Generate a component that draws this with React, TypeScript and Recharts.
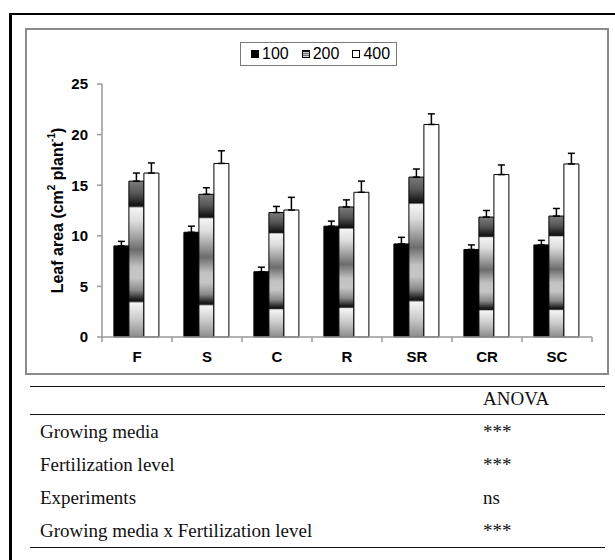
import React from 'react';
import { BarChart, Bar, XAxis, YAxis, ErrorBar } from 'recharts';

// growing media
const categories = ['F', 'S', 'C', 'R', 'SR', 'CR', 'SC'];
// fertilization levels
const levels = ['100', '200', '400'];

const leafArea100 = [9.0, 10.35, 6.45, 10.95, 9.2, 8.65, 9.1];
const leafArea200 = [15.4, 14.1, 12.3, 12.85, 15.8, 11.85, 11.95];
const leafArea400 = [16.2, 17.15, 12.55, 14.3, 21.0, 16.05, 17.1];

const se100 = [0.45, 0.6, 0.45, 0.5, 0.65, 0.45, 0.45];
const se200 = [0.8, 0.65, 0.6, 0.7, 0.8, 0.65, 0.75];
const se400 = [1.0, 1.25, 1.25, 1.1, 1.05, 0.95, 1.05];

const yTicks = [0, 5, 10, 15, 20, 25];

const anovaFactors = [
    'Growing media',
    'Fertilization level',
    'Experiments',
    'Growing media x Fertilization level',
];
const anovaSignif = ['***', '***', 'ns', '***'];

const values = [leafArea100, leafArea200, leafArea400];
const errors = [se100, se200, se400];
const fills = ['#000000', 'url(#grad200)', '#ffffff'];

const data = categories.map((name, i) => {
    const row: Record<string, any> = { name };
    levels.forEach((lv, s) => {
        row[`v${lv}`] = values[s][i];
        row[`e${lv}`] = [0, errors[s][i]];
    });
    return row;
});

const SANS = '"Liberation Sans", Arial, sans-serif';
const SERIF = '"Liberation Serif", "Times New Roman", serif';

const GradStops = () => (
    <>
        <stop offset="0" stopColor="#7c7c7c" />
        <stop offset="0.08" stopColor="#555555" />
        <stop offset="0.145" stopColor="#1c1c1c" />
        <stop offset="0.16" stopColor="#111111" />
        <stop offset="0.172" stopColor="#f4f4f4" />
        <stop offset="0.26" stopColor="#dcdcdc" />
        <stop offset="0.35" stopColor="#a6a6a6" />
        <stop offset="0.44" stopColor="#6c6c6c" />
        <stop offset="0.55" stopColor="#c2c2c2" />
        <stop offset="0.62" stopColor="#c6c6c6" />
        <stop offset="0.7" stopColor="#8a8a8a" />
        <stop offset="0.755" stopColor="#222222" />
        <stop offset="0.77" stopColor="#111111" />
        <stop offset="0.782" stopColor="#f5f5f5" />
        <stop offset="0.88" stopColor="#cdcdcd" />
        <stop offset="1" stopColor="#8c8c8c" />
    </>
);

const XTick = (props: any) => {
    const { x, y, payload, index } = props;
    const half = payload && payload.offset ? payload.offset : 35;
    const last = index === categories.length - 1;
    return (
        <g>
            <line x1={x - half} x2={x - half} y1={y} y2={y + 5} stroke="#999" strokeWidth={1.5} />
            {last && <line x1={x + half} x2={x + half} y1={y} y2={y + 5} stroke="#999" strokeWidth={1.5} />}
            <text x={x} y={y + 19} textAnchor="middle" dominantBaseline="central"
                fontFamily={SANS} fontSize={15} fontWeight="bold" fill="#000">
                {payload.value}
            </text>
        </g>
    );
};

const YLabel = (props: any) => {
    const vb = props.viewBox || { x: 52, y: 84, height: 253 };
    const cx = vb.x + 5;
    const cy = vb.y + vb.height / 2;
    return (
        <text x={cx} y={cy} transform={`rotate(-90, ${cx}, ${cy})`} textAnchor="middle"
            dominantBaseline="central" fontFamily={SANS} fontSize={16} fontWeight="bold" fill="#000">
            {'Leaf area (cm'}<tspan fontSize={10} baselineShift="super">2</tspan>{' plant'}<tspan fontSize={10} baselineShift="super">-1</tspan>{')'}
        </text>
    );
};

const LegendBox = () => (
    <div style={{
        position: 'absolute', left: 240, top: 42, width: 157, height: 24, boxSizing: 'border-box',
        border: '1px solid #7a7a7a', background: '#fff', display: 'flex', alignItems: 'center',
        paddingLeft: 10, fontFamily: SANS, fontSize: 16, color: '#000',
    }}>
        {levels.map((lv, s) => (
            <div key={lv} style={{ display: 'flex', alignItems: 'center', marginRight: 13 }}>
                <svg width={8} height={8} style={{ marginRight: 3 }}>
                    <defs>
                        <linearGradient id={`lg${lv}`} x1="0" y1="0" x2="0" y2="1">
                            <GradStops />
                        </linearGradient>
                    </defs>
                    <rect x={0.5} y={0.5} width={7} height={7}
                        fill={s === 1 ? `url(#lg${lv})` : fills[s]} stroke="#000" strokeWidth={1} />
                </svg>
                <span style={{ lineHeight: '16px' }}>{lv}</span>
            </div>
        ))}
    </div>
);

const AnovaTable = () => (
    <div style={{ position: 'absolute', left: 30, top: 386, width: 575, fontFamily: SERIF, fontSize: 19, color: '#111' }}>
        <div style={{ borderTop: '1.5px solid #111', borderBottom: '1.5px solid #111', height: 27, lineHeight: '24px', position: 'relative' }}>
            <span style={{ position: 'absolute', left: 453 }}>ANOVA</span>
        </div>
        {anovaFactors.map((f, i) => (
            <div key={f} style={{ height: 33, lineHeight: '33px', position: 'relative' }}>
                <span style={{ position: 'absolute', left: 10 }}>{f}</span>
                <span style={{ position: 'absolute', left: 453 }}>{anovaSignif[i]}</span>
            </div>
        ))}
        <div style={{ borderTop: '1.5px solid #111' }} />
    </div>
);

export default function App() {
    return (
        <div style={{ position: 'fixed', left: 0, top: 0, width: 615, height: 560, overflow: 'hidden', background: '#fff' }}>
            <div style={{ position: 'absolute', left: 9, top: 13, width: 800, height: 800, borderLeft: '3px solid #000', borderTop: '2.5px solid #000' }} />
            <div style={{ position: 'absolute', left: 25, top: 28, width: 584, height: 347, boxSizing: 'border-box', border: '2px solid #8a8a8a' }} />
            <div style={{ position: 'absolute', left: 0, top: 0 }}>
                <BarChart width={615} height={380} data={data}
                    margin={{ top: 84, right: 23, bottom: 13, left: 52 }}
                    barCategoryGap="17%" barGap={0}>
                    <defs>
                        <linearGradient id="grad200" x1="0" y1="0" x2="0" y2="1">
                            <GradStops />
                        </linearGradient>
                    </defs>
                    <XAxis dataKey="name" height={30} stroke="#999" axisLine={{ stroke: '#999', strokeWidth: 1.5 }}
                        tickLine={false} tickSize={0} tickMargin={0} tick={<XTick />} interval={0} />
                    <YAxis domain={[0, 25]} ticks={yTicks} width={50} interval={0}
                        axisLine={{ stroke: '#999', strokeWidth: 1.5 }} tickLine={{ stroke: '#999', strokeWidth: 1.5 }}
                        tickSize={5} tickMargin={9}
                        tick={{ fill: '#000', fontSize: 15, fontWeight: 'bold', fontFamily: SANS }}
                        label={{ content: <YLabel /> }} />
                    {levels.map((lv, s) => (
                        <Bar key={lv} dataKey={`v${lv}`} name={lv} fill={fills[s]} stroke="#000" strokeWidth={1}
                            isAnimationActive={false}>
                            <ErrorBar dataKey={`e${lv}`} direction="y" width={3.5} stroke="#000" strokeWidth={1.5}
                                isAnimationActive={false} />
                        </Bar>
                    ))}
                </BarChart>
            </div>
            <LegendBox />
            <AnovaTable />
        </div>
    );
}
